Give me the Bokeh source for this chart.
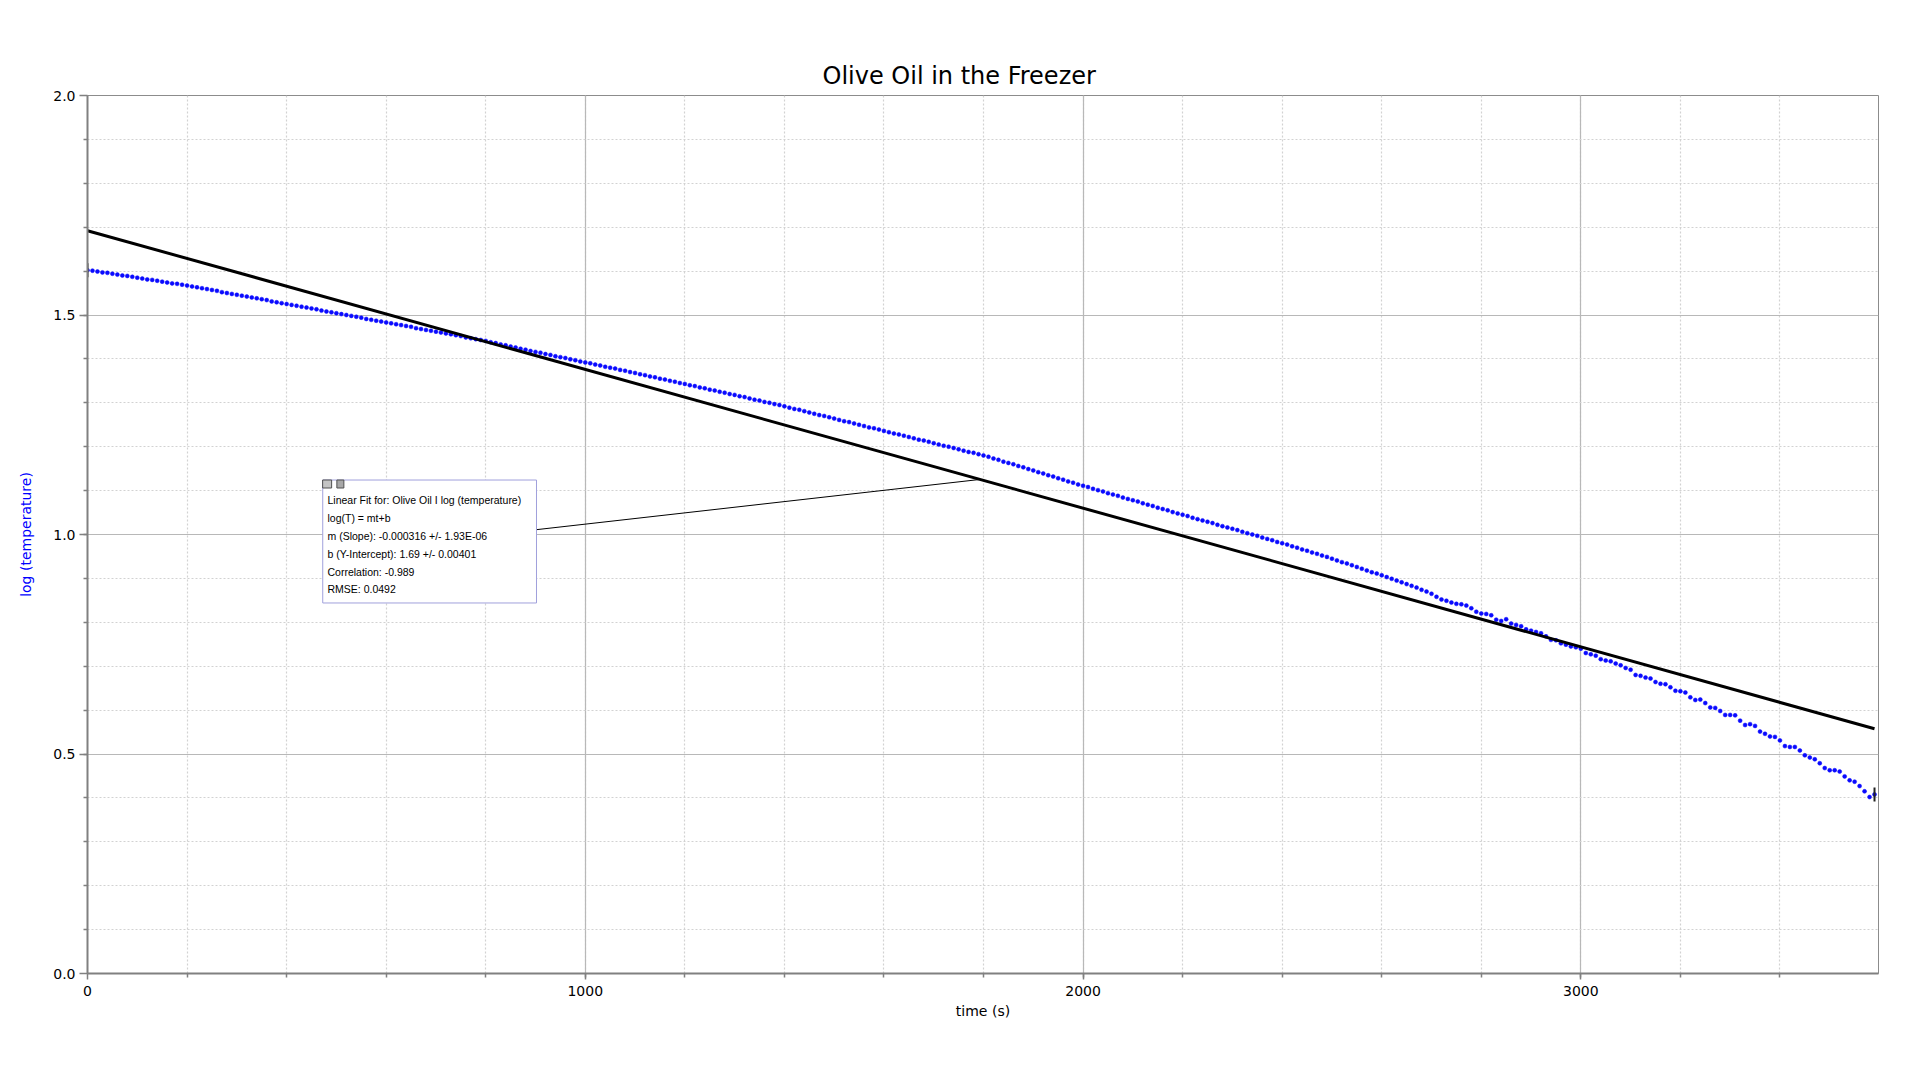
import numpy as np
from bokeh.plotting import figure
from bokeh.models import (ColumnDataSource, Range1d, FixedTicker, Label,
                          BoxAnnotation, CustomJSTickFormatter)
from bokeh.embed import file_html
from bokeh.resources import INLINE

# ---------------- data ----------------
title_text = "Olive Oil in the Freezer"
x_label = "time (s)"
y_label = "log (temperature)"

time_step = 10  # s, sampling of the values below
log_temp = [
    1.602, 1.601, 1.599, 1.597, 1.596, 1.594, 1.592, 1.590, 1.589, 1.587,
    1.585, 1.583, 1.581, 1.580, 1.578, 1.576, 1.574, 1.572, 1.571, 1.569,
    1.567, 1.565, 1.563, 1.561, 1.559, 1.557, 1.555, 1.552, 1.550, 1.548,
    1.546, 1.544, 1.542, 1.540, 1.538, 1.536, 1.534, 1.531, 1.529, 1.527,
    1.525, 1.523, 1.521, 1.519, 1.517, 1.515, 1.513, 1.510, 1.508, 1.506,
    1.504, 1.502, 1.500, 1.498, 1.496, 1.494, 1.491, 1.489, 1.487, 1.485,
    1.483, 1.481, 1.479, 1.477, 1.475, 1.473, 1.470, 1.468, 1.466, 1.464,
    1.462, 1.460, 1.458, 1.456, 1.454, 1.452, 1.449, 1.447, 1.445, 1.443,
    1.441, 1.438, 1.436, 1.433, 1.431, 1.428, 1.426, 1.423, 1.421, 1.418,
    1.416, 1.414, 1.411, 1.409, 1.406, 1.404, 1.402, 1.399, 1.397, 1.394,
    1.392, 1.390, 1.387, 1.385, 1.382, 1.380, 1.378, 1.375, 1.373, 1.370,
    1.368, 1.365, 1.363, 1.360, 1.358, 1.355, 1.353, 1.350, 1.348, 1.345,
    1.343, 1.340, 1.338, 1.335, 1.333, 1.330, 1.328, 1.325, 1.323, 1.320,
    1.318, 1.315, 1.313, 1.310, 1.307, 1.305, 1.302, 1.300, 1.297, 1.295,
    1.292, 1.289, 1.286, 1.284, 1.281, 1.278, 1.275, 1.272, 1.270, 1.267,
    1.264, 1.261, 1.258, 1.256, 1.253, 1.250, 1.247, 1.244, 1.242, 1.239,
    1.236, 1.233, 1.230, 1.228, 1.225, 1.222, 1.219, 1.216, 1.214, 1.211,
    1.208, 1.205, 1.202, 1.200, 1.197, 1.194, 1.191, 1.188, 1.186, 1.183,
    1.180, 1.177, 1.173, 1.170, 1.166, 1.163, 1.160, 1.156, 1.153, 1.149,
    1.146, 1.142, 1.139, 1.135, 1.132, 1.128, 1.125, 1.121, 1.118, 1.114,
    1.111, 1.108, 1.104, 1.101, 1.098, 1.094, 1.091, 1.088, 1.084, 1.081,
    1.078, 1.075, 1.071, 1.068, 1.065, 1.061, 1.058, 1.055, 1.051, 1.048,
    1.045, 1.042, 1.038, 1.035, 1.032, 1.029, 1.026, 1.022, 1.019, 1.016,
    1.013, 1.010, 1.006, 1.003, 1.000, 0.997, 0.993, 0.990, 0.987, 0.983,
    0.980, 0.977, 0.973, 0.970, 0.966, 0.963, 0.959, 0.956, 0.952, 0.949,
    0.945, 0.941, 0.937, 0.934, 0.930, 0.926, 0.922, 0.918, 0.914, 0.911,
    0.907, 0.903, 0.899, 0.895, 0.891, 0.887, 0.883, 0.879, 0.874, 0.870,
    0.865, 0.858, 0.852, 0.849, 0.845, 0.842, 0.841, 0.838, 0.832, 0.824,
    0.820, 0.819, 0.816, 0.806, 0.803, 0.807, 0.797, 0.794, 0.791, 0.784,
    0.781, 0.778, 0.775, 0.768, 0.760, 0.759, 0.752, 0.749, 0.745, 0.743,
    0.740, 0.730, 0.727, 0.724, 0.716, 0.713, 0.711, 0.706, 0.702, 0.696,
    0.692, 0.680, 0.678, 0.674, 0.672, 0.664, 0.660, 0.659, 0.652, 0.644,
    0.643, 0.640, 0.629, 0.623, 0.624, 0.616, 0.606, 0.605, 0.598, 0.589,
    0.589, 0.588, 0.576, 0.566, 0.568, 0.564, 0.551, 0.546, 0.540, 0.539,
    0.531, 0.518, 0.516, 0.516, 0.508, 0.497, 0.492, 0.488, 0.479, 0.468,
    0.463, 0.463, 0.460, 0.449, 0.440, 0.437, 0.427, 0.415, 0.402, 0.408,
]
time_s = [i * time_step for i in range(len(log_temp))]

# linear fit shown on the chart
fit_m = -0.000316
fit_b = 1.692
fit_lines = [
    "Linear Fit for: Olive Oil I log (temperature)",
    "log(T) = mt+b",
    "m (Slope): -0.000316 +/- 1.93E-06",
    "b (Y-Intercept): 1.69 +/- 0.00401",
    "Correlation: -0.989",
    "RMSE: 0.0492",
]

x_major = [0, 1000, 2000, 3000]
x_minor = [200 * i for i in range(1, 18)]
y_major = [0.0, 0.5, 1.0, 1.5, 2.0]
y_minor = [round(0.1 * i, 1) for i in range(1, 20)]

# ---------------- figure ----------------
FONT = "DejaVu Sans"
GRAY = "#808080"

p = figure(width=1904, height=1064, output_backend="svg", toolbar_location=None,
           x_range=Range1d(0, 3598), y_range=Range1d(0, 2.0),
           min_border_left=87, min_border_right=26, min_border_top=95,
           min_border_bottom=91, title=title_text)
p.background_fill_color = "white"
p.border_fill_color = "white"
p.outline_line_color = "#8c8c8c"
p.outline_line_width = 1

p.title.text_font = FONT
p.title.text_font_size = "24px"
p.title.text_font_style = "normal"
p.title.text_color = "black"
p.title.align = "left"
p.title.offset = 735
p.title.standoff = 12

p.xaxis.ticker = FixedTicker(ticks=x_major, minor_ticks=x_minor)
p.yaxis.ticker = FixedTicker(ticks=y_major, minor_ticks=y_minor)
p.yaxis.formatter = CustomJSTickFormatter(code="return tick.toFixed(1);")

for ax in (p.xaxis, p.yaxis):
    ax.axis_line_color = GRAY
    ax.axis_line_width = 2
    ax.major_tick_line_color = GRAY
    ax.minor_tick_line_color = GRAY
    ax.major_tick_line_width = 1.5
    ax.minor_tick_line_width = 1.5
    ax.major_tick_in = 0
    ax.minor_tick_in = 0
    ax.major_label_text_font = FONT
    ax.major_label_text_font_size = "14px"
    ax.major_label_text_color = "black"
    ax.axis_label_text_font = FONT
    ax.axis_label_text_font_size = "14px"
    ax.axis_label_text_font_style = "normal"

p.xaxis.major_tick_out = 6
p.xaxis.minor_tick_out = 4
p.xaxis.major_label_standoff = 6
p.xaxis.axis_label = x_label
p.xaxis.axis_label_text_color = "black"
p.xaxis.axis_label_standoff = 4

p.yaxis.major_tick_out = 8
p.yaxis.minor_tick_out = 4
p.yaxis.major_label_standoff = 4
p.yaxis.axis_label = y_label
p.yaxis.axis_label_text_color = "#0000ff"
p.yaxis.axis_label_standoff = 16

for g in (p.xgrid, p.ygrid):
    g.grid_line_color = "#b8b8b8"
    g.grid_line_width = 1.2
    g.minor_grid_line_color = "#d2d2d2"
    g.minor_grid_line_width = 1.2
    g.minor_grid_line_dash = "2 2"

# data points
src = ColumnDataSource(data=dict(t=time_s, v=log_temp))
p.scatter("t", "v", source=src, size=4, marker="circle",
          fill_color="#0a0aff", line_color="#0a0aff", line_width=0.5)

# fit line through the fit parameters
fit_x = [time_s[0], time_s[-1]]
fit_y = [fit_b + fit_m * x for x in fit_x]
p.line(fit_x, fit_y, line_color="black", line_width=3)

# region brackets at start and end of the data
p.scatter([time_s[0], time_s[-1]], [log_temp[0], log_temp[-1]], marker="dash",
          angle=np.pi / 2, size=14, line_color="#222222", line_width=2)

# connector from the annotation box to the fit line
conn_t = 1793
p.line([902, conn_t], [1.011, fit_b + fit_m * conn_t], line_color="black",
       line_width=1)

# fit annotation box
box = BoxAnnotation(left=472.6, right=902.0, bottom=0.844, top=1.1241,
                    fill_color="white", fill_alpha=1.0, line_color="#a0a0dc",
                    line_width=1, line_alpha=1.0)
p.add_layout(box)
p.rect(x=[481.4, 508.0], y=[1.1150, 1.1150], width=[9, 7], height=[8, 8],
       width_units="screen", height_units="screen",
       fill_color=["#c4c4c4", "#a8a8a8"], line_color="#505050", line_width=1,
       level="overlay")
p.add_layout(Label(x=481.4, y=1.1150, text="x", text_font="Liberation Sans",
                   text_font_size="9px", text_align="center",
                   text_baseline="middle", text_color="black",
                   text_font_style="bold"))

line_y = [1.0786, 1.0367, 0.9957, 0.9556, 0.9153, 0.8759]
for txt, yy in zip(fit_lines, line_y):
    p.add_layout(Label(x=482.1, y=yy, text=txt, text_font="Liberation Sans",
                       text_font_size="10.5px", text_align="left",
                       text_baseline="middle", text_color="black"))

open("out.html", "w").write(file_html(p, INLINE))
